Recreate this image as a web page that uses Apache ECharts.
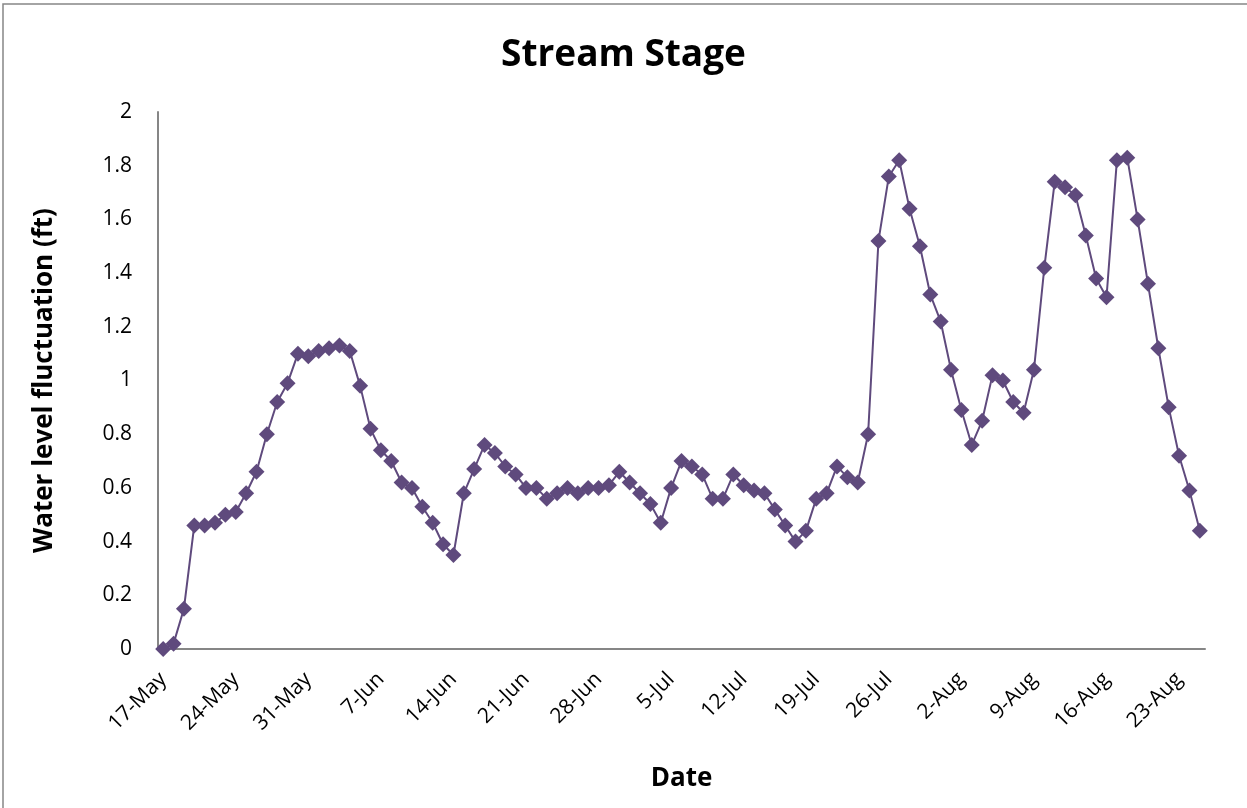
<!DOCTYPE html>
<html>
<head>
<meta charset="utf-8">
<title>Stream Stage</title>
<script src="https://cdn.jsdelivr.net/npm/echarts@6/dist/echarts.min.js"></script>
<style>
  html, body { margin: 0; padding: 0; background: #fff; }
  #chart { width: 1247px; height: 808px; }
</style>
</head>
<body>
<div id="chart"></div>
<script>
// daily dates, 17-May to 25-Aug
const dates = [
  '17-May', '18-May', '19-May', '20-May', '21-May', '22-May', '23-May', '24-May', '25-May', '26-May',
  '27-May', '28-May', '29-May', '30-May', '31-May',
  '1-Jun', '2-Jun', '3-Jun', '4-Jun', '5-Jun', '6-Jun', '7-Jun', '8-Jun', '9-Jun', '10-Jun',
  '11-Jun', '12-Jun', '13-Jun', '14-Jun', '15-Jun', '16-Jun', '17-Jun', '18-Jun', '19-Jun', '20-Jun',
  '21-Jun', '22-Jun', '23-Jun', '24-Jun', '25-Jun', '26-Jun', '27-Jun', '28-Jun', '29-Jun', '30-Jun',
  '1-Jul', '2-Jul', '3-Jul', '4-Jul', '5-Jul', '6-Jul', '7-Jul', '8-Jul', '9-Jul', '10-Jul',
  '11-Jul', '12-Jul', '13-Jul', '14-Jul', '15-Jul', '16-Jul', '17-Jul', '18-Jul', '19-Jul', '20-Jul',
  '21-Jul', '22-Jul', '23-Jul', '24-Jul', '25-Jul', '26-Jul', '27-Jul', '28-Jul', '29-Jul', '30-Jul',
  '31-Jul',
  '1-Aug', '2-Aug', '3-Aug', '4-Aug', '5-Aug', '6-Aug', '7-Aug', '8-Aug', '9-Aug', '10-Aug',
  '11-Aug', '12-Aug', '13-Aug', '14-Aug', '15-Aug', '16-Aug', '17-Aug', '18-Aug', '19-Aug', '20-Aug',
  '21-Aug', '22-Aug', '23-Aug', '24-Aug', '25-Aug'
];

// water level fluctuation (ft)
const stage = [
  0.00, 0.02, 0.15, 0.46, 0.46, 0.47, 0.50, 0.51, 0.58, 0.66,
  0.80, 0.92, 0.99, 1.10, 1.09, 1.11, 1.12, 1.13, 1.11, 0.98,
  0.82, 0.74, 0.70, 0.62, 0.60, 0.53, 0.47, 0.39, 0.35, 0.58,
  0.67, 0.76, 0.73, 0.68, 0.65, 0.60, 0.60, 0.56, 0.58, 0.60,
  0.58, 0.60, 0.60, 0.61, 0.66, 0.62, 0.58, 0.54, 0.47, 0.60,
  0.70, 0.68, 0.65, 0.56, 0.56, 0.65, 0.61, 0.59, 0.58, 0.52,
  0.46, 0.40, 0.44, 0.56, 0.58, 0.68, 0.64, 0.62, 0.80, 1.52,
  1.76, 1.82, 1.64, 1.50, 1.32, 1.22, 1.04, 0.89, 0.76, 0.85,
  1.02, 1.00, 0.92, 0.88, 1.04, 1.42, 1.74, 1.72, 1.69, 1.54,
  1.38, 1.31, 1.82, 1.83, 1.60, 1.36, 1.12, 0.90, 0.72, 0.59,
  0.44
];

const yMin = 0;
const yMax = 2;
const yStep = 0.2;

const FONT = '"Open Sans", Lato, sans-serif';
const AXIS_GREY = '#868686';
const PURPLE = '#5f4a7d';

const getOption = () => {
    return {
        animation: false,
        textStyle: { fontFamily: FONT, color: '#000' },
        title: {
            text: 'Stream Stage',
            left: 'center',
            top: 32,
            textStyle: { fontFamily: FONT, fontSize: 37, fontWeight: 'bold', color: '#000' }
        },
        graphic: [
            {
                type: 'rect',
                shape: { x: 3, y: 4, width: 1300, height: 900 },
                style: { fill: null, stroke: AXIS_GREY, lineWidth: 1.5 },
                silent: true
            }
        ],
        grid: { left: 158, right: 42, top: 112, bottom: 159 },
        xAxis: {
            type: 'category',
            data: dates,
            boundaryGap: true,
            name: 'Date',
            nameLocation: 'middle',
            nameGap: 117,
            nameTextStyle: { fontFamily: FONT, fontSize: 26, fontWeight: 'bold', color: '#000' },
            axisLine: { lineStyle: { color: AXIS_GREY, width: 2 } },
            axisTick: { show: false },
            axisLabel: {
                interval: 6,
                rotate: 45,
                margin: 27,
                fontFamily: FONT,
                fontSize: 21,
                color: '#000'
            },
            splitLine: { show: false }
        },
        yAxis: {
            type: 'value',
            min: yMin,
            max: yMax,
            interval: yStep,
            name: 'Water level fluctuation (ft)',
            nameLocation: 'middle',
            nameRotate: 90,
            nameGap: 100,
            nameTextStyle: { fontFamily: FONT, fontSize: 26, fontWeight: 'bold', color: '#000' },
            axisLine: { show: true, lineStyle: { color: AXIS_GREY, width: 2 } },
            axisTick: { show: false },
            axisLabel: {
                margin: 26,
                fontFamily: FONT,
                fontSize: 21,
                color: '#000'
            },
            splitLine: { show: false }
        },
        series: [
            {
                type: 'line',
                data: stage,
                symbol: 'diamond',
                symbolSize: 16,
                showAllSymbol: true,
                lineStyle: { color: PURPLE, width: 2 },
                itemStyle: { color: PURPLE, borderWidth: 0 }
            }
        ]
    };
};

const initChart = () => {
    const chart = echarts.init(document.getElementById('chart'), null, { renderer: 'canvas' });
    chart.setOption(getOption());
};

window.addEventListener('load', () => {
    initChart();
});
</script>
</body>
</html>
